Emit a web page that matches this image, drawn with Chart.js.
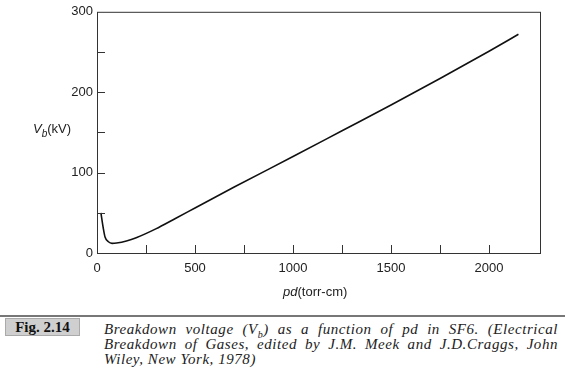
<!DOCTYPE html>
<html>
<head>
<meta charset="utf-8">
<script src="https://cdn.jsdelivr.net/npm/chart.js@4.4.1/dist/chart.umd.min.js"></script>
<style>
  body { margin: 0; background: #fff; width: 565px; height: 378px; overflow: hidden; position: relative; font-family: "Liberation Sans", Arial, sans-serif; }
  #wrap { position: absolute; left: 0; top: 0; width: 565px; height: 300px; }
  .axt { position: absolute; font-size: 13px; color: #222; white-space: nowrap; }
  .axt i sub { font-size: 10px; }
  #rule { position: absolute; left: 0; top: 315px; width: 565px; height: 2px; background: #777; }
  #fig { position: absolute; left: 5px; top: 318px; width: 75px; height: 18px; background: #cfcfcf; border: 1px solid #aaa; box-sizing: border-box;
         font-family: "Liberation Serif", "DejaVu Serif", serif; font-weight: bold; font-size: 15px; line-height: 16px; text-align: center; color: #111; }
  .cap { position: absolute; left: 104px; width: 454px; font-family: "Liberation Serif", "DejaVu Serif", serif; font-style: italic;
         font-size: 15px; line-height: 15px; color: #222; white-space: nowrap; letter-spacing: 0.55px; }
  .just { text-align: justify; text-align-last: justify; white-space: normal; }
  .cap sub { font-size: 10px; line-height: 0; }
</style>
</head>
<body>
<div id="wrap"><canvas id="chart" width="565" height="300"></canvas></div>
<div class="axt" style="left:33px;top:121px;"><i>V<sub>b</sub></i>(kV)</div>
<div class="axt" style="left:283px;top:284px;"><i>pd</i>(torr-cm)</div>
<div id="rule"></div>
<div id="fig">Fig. 2.14</div>
<div class="cap just" style="top:322px;">Breakdown voltage (V<sub>b</sub>) as a function of pd in SF6. (Electrical</div>
<div class="cap just" style="top:337px;">Breakdown of Gases, edited by J.M. Meek and J.D.Craggs, John</div>
<div class="cap" style="top:352px;">Wiley, New York, 1978)</div>
<script>
// pd (torr-cm) and breakdown voltage (kV)
const pd = [20, 32, 41, 58, 77, 100, 150, 200, 300, 400, 500, 700, 1000, 1250, 1500, 1750, 2000, 2150];
const vb = [50, 31, 20, 14, 12, 12.5, 15, 19, 30, 43, 56, 82, 120, 152, 184, 217, 251, 272];

const xTicks = [0, 500, 1000, 1500, 2000];
const yTicks = [0, 100, 200, 300];
const xMinor = [250, 500, 750, 1000, 1250, 1500, 1750, 2000];
const yMinor = [50, 100, 150, 200, 250];

const tickFont = { family: '"Liberation Sans", Arial, sans-serif', size: 13 };

// frame and inward tick marks
const frame = {
  id: 'frame',
  afterDraw(chart) {
    const { ctx, chartArea: a, scales: { x, y } } = chart;
    ctx.save();
    ctx.strokeStyle = '#333';
    ctx.lineWidth = 1;
    ctx.strokeRect(a.left + 0.5, a.top + 0.5, a.right - a.left, a.bottom - a.top);
    ctx.beginPath();
    xMinor.forEach(v => {
      const px = Math.round(x.getPixelForValue(v)) + 0.5;
      ctx.moveTo(px, a.bottom);
      ctx.lineTo(px, a.bottom - 8);
    });
    yMinor.forEach(v => {
      const py = Math.round(y.getPixelForValue(v)) + 0.5;
      ctx.moveTo(a.left, py);
      ctx.lineTo(a.left + 8, py);
    });
    ctx.stroke();
    ctx.restore();
  }
};

new Chart(document.getElementById('chart'), {
  type: 'line',
  data: {
    datasets: [{
      data: pd.map((p, i) => ({ x: p, y: vb[i] })),
      borderColor: '#111',
      borderWidth: 1.6,
      pointRadius: 0,
      cubicInterpolationMode: 'monotone',
      fill: false
    }]
  },
  options: {
    responsive: false,
    animation: false,
    devicePixelRatio: 1,
    layout: { padding: { left: 0, right: 25, top: 10, bottom: 0 } },
    plugins: { legend: { display: false }, tooltip: { enabled: false } },
    scales: {
      x: {
        type: 'linear', min: 0, max: 2260,
        afterBuildTicks: s => { s.ticks = xTicks.map(v => ({ value: v })); },
        afterFit: s => { s.height = 47; },
        grid: { display: false, drawTicks: false },
        border: { display: false },
        ticks: { font: tickFont, color: '#222', padding: 8, maxRotation: 0, callback: v => String(v) }
      },
      y: {
        min: 0, max: 300,
        afterBuildTicks: s => { s.ticks = yTicks.map(v => ({ value: v })); },
        afterFit: s => { s.width = 97; },
        grid: { display: false, drawTicks: false },
        border: { display: false },
        ticks: { font: tickFont, color: '#222', padding: 4, callback: v => String(v) }
      }
    }
  },
  plugins: [frame]
});
</script>
</body>
</html>
